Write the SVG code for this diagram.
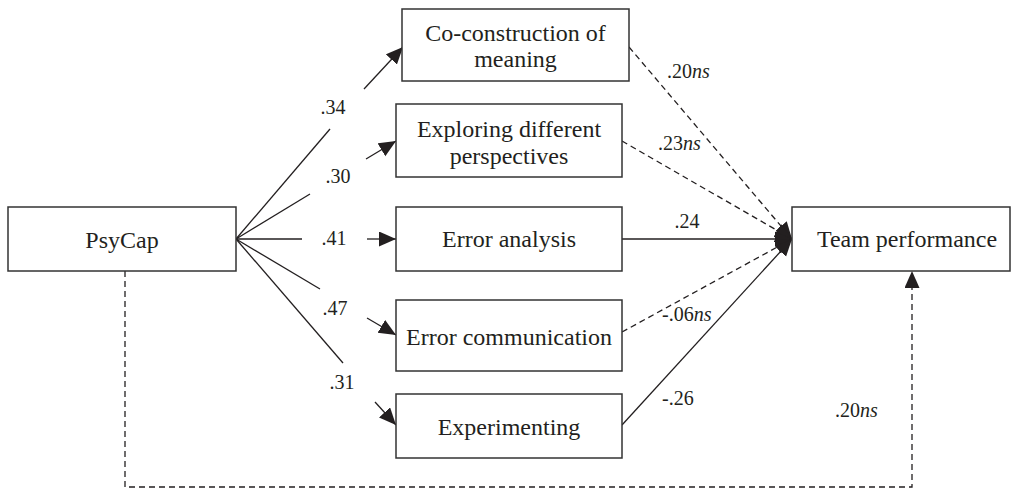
<svg xmlns="http://www.w3.org/2000/svg" width="1017" height="490" viewBox="0 0 1017 490">
  <style>
    .box { fill: #fff; stroke: #333; stroke-width: 1.5; }
    .node-text { font-family: "Liberation Serif", "Times New Roman", serif; font-size: 24px; fill: #231f20; text-anchor: middle; }
    .coef { font-family: "Liberation Serif", "Times New Roman", serif; font-size: 20px; fill: #231f20; }
    .mid { text-anchor: middle; }
    .solid { fill: none; stroke: #231f20; stroke-width: 1.3; }
    .dash { fill: none; stroke: #231f20; stroke-width: 1.3; stroke-dasharray: 6 4; }
    .arrow { marker-end: url(#head); }
  </style>
  <defs>
    <marker id="head" markerUnits="userSpaceOnUse" markerWidth="18" markerHeight="16" refX="17" refY="7.5" orient="auto">
      <path d="M0,0 L17,7.5 L0,15 Z" fill="#231f20" stroke="none"/>
    </marker>
  </defs>
  <rect width="1017" height="490" fill="#fff"/>

  <!-- connectors -->
  <g id="connectors">
    <!-- PsyCap to mediators (broken around the coefficient labels) -->
    <line class="solid" x1="236" y1="239" x2="330" y2="129"/>
    <line class="solid arrow" x1="364" y1="89" x2="403" y2="47"/>
    <line class="solid" x1="236" y1="239" x2="310" y2="194"/>
    <line class="solid arrow" x1="366" y1="159" x2="396" y2="141"/>
    <line class="solid" x1="236" y1="239" x2="302" y2="239"/>
    <line class="solid arrow" x1="367" y1="239" x2="396" y2="239"/>
    <line class="solid" x1="236" y1="239" x2="320" y2="289"/>
    <line class="solid arrow" x1="367" y1="318" x2="396" y2="335"/>
    <line class="solid" x1="236" y1="239" x2="343" y2="363"/>
    <line class="solid arrow" x1="375" y1="402" x2="396" y2="425"/>
    <!-- mediators to Team performance -->
    <line class="dash arrow" x1="629" y1="47" x2="792" y2="239"/>
    <line class="dash arrow" x1="622" y1="141" x2="792" y2="239"/>
    <line class="solid arrow" x1="622" y1="239" x2="792" y2="239"/>
    <line class="dash arrow" x1="622" y1="332" x2="792" y2="239"/>
    <line class="solid arrow" x1="622" y1="425" x2="792" y2="239"/>
    <!-- direct path -->
    <path class="dash arrow" d="M125,271 V487 H912 V271"/>

    <!-- coefficients -->
    <text class="coef mid" x="333" y="114">.34</text>
    <text class="coef mid" x="338" y="183">.30</text>
    <text class="coef mid" x="334" y="245">.41</text>
    <text class="coef mid" x="335" y="315">.47</text>
    <text class="coef mid" x="342" y="389">.31</text>
    <text class="coef" x="667" y="78">.20<tspan font-style="italic">ns</tspan></text>
    <text class="coef" x="658" y="150">.23<tspan font-style="italic">ns</tspan></text>
    <text class="coef mid" x="687" y="228">.24</text>
    <text class="coef" x="662" y="321">-.06<tspan font-style="italic">ns</tspan></text>
    <text class="coef" x="662" y="405">-.26</text>
    <text class="coef" x="835" y="417">.20<tspan font-style="italic">ns</tspan></text>
  </g>

  <!-- nodes -->
  <g id="psycap">
    <rect class="box" x="8" y="207" width="228" height="64"/>
    <text class="node-text" x="122" y="248">PsyCap</text>
  </g>
  <g id="co-construction">
    <rect class="box" x="402" y="9" width="227" height="72"/>
    <text class="node-text" x="515.5" y="41">Co-construction of</text>
    <text class="node-text" x="515.5" y="67">meaning</text>
  </g>
  <g id="exploring">
    <rect class="box" x="396" y="104" width="226" height="73"/>
    <text class="node-text" x="509" y="137">Exploring different</text>
    <text class="node-text" x="509" y="164">perspectives</text>
  </g>
  <g id="error-analysis">
    <rect class="box" x="396" y="207" width="226" height="64"/>
    <text class="node-text" x="509" y="247">Error analysis</text>
  </g>
  <g id="error-communication">
    <rect class="box" x="396" y="300" width="226" height="71"/>
    <text class="node-text" x="509" y="345">Error communication</text>
  </g>
  <g id="experimenting">
    <rect class="box" x="396" y="394" width="226" height="64"/>
    <text class="node-text" x="509" y="435">Experimenting</text>
  </g>
  <g id="team-performance">
    <rect class="box" x="792" y="207" width="218" height="64"/>
    <text class="node-text" x="907" y="247">Team performance</text>
  </g>
</svg>
